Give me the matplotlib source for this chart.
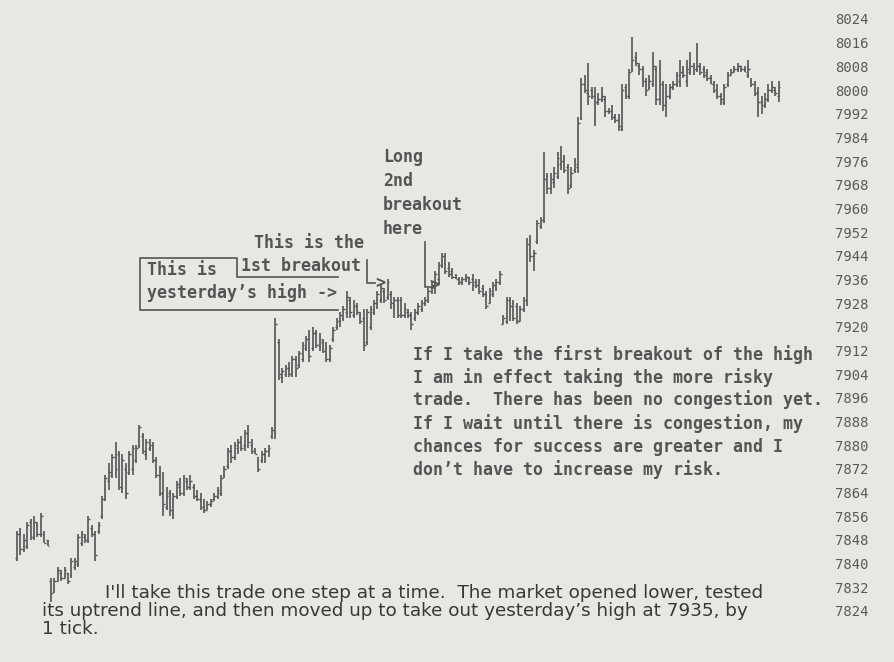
import numpy as np
import matplotlib
matplotlib.use("Agg")
import matplotlib.pyplot as plt
from matplotlib.lines import Line2D

# one-minute style OHLC bars, oldest first
highs = [
    7851, 7852, 7850, 7854, 7855, 7856, 7854, 7857, 7851, 7848,
    7835, 7835, 7839, 7838, 7839, 7837, 7842, 7842, 7850, 7851, 7850, 7856, 7853, 7851, 7854,
    7863, 7870, 7874, 7877, 7881, 7878, 7877, 7874, 7878, 7880, 7880, 7887, 7884, 7882, 7882,
    7881, 7876, 7873, 7871, 7866, 7865, 7864, 7868, 7869, 7870, 7869, 7870, 7867, 7865, 7864,
    7862, 7861, 7862, 7864, 7866, 7870, 7873, 7879, 7880, 7881, 7882, 7883, 7885, 7887, 7882,
    7879, 7876, 7878, 7879, 7880, 7886,
    7923, 7916, 7906, 7907, 7908, 7910, 7910, 7912, 7915, 7917, 7919, 7920, 7919, 7918, 7916,
    7915, 7914, 7920, 7923, 7925, 7927, 7932, 7930, 7929, 7928, 7925, 7926, 7926, 7927, 7929,
    7932, 7934, 7933, 7936, 7932, 7930, 7930,
    7930, 7928, 7926, 7925, 7926, 7928, 7929, 7930, 7933, 7935, 7939, 7942, 7945, 7945, 7942,
    7940, 7938, 7937, 7937, 7938, 7937, 7938, 7936, 7936, 7934, 7932, 7933, 7935, 7936, 7939,
    7924, 7930, 7930, 7929, 7928, 7927, 7930,
    7950, 7951, 7946, 7956, 7957, 7979, 7972, 7972, 7974, 7979, 7981, 7978, 7975, 7974, 7977, 7991,
    8004, 8005, 8009, 8001, 8001, 7999, 8001, 7998, 7994, 7995, 7992, 7992, 8002, 8002, 8007,
    8018, 8013, 8009, 8008, 8004, 8005, 8013, 8008, 8010, 8003, 8002, 8002, 8003, 8006, 8010,
    8008, 8010, 8013, 8009, 8016, 8009, 8008, 8007, 8005, 8003, 8002, 7999, 8002, 8006, 8007,
    8008, 8009, 8008, 8008, 8010, 8004, 8003, 8001, 7998, 7999, 8002, 8003, 8001, 8003,
]
lows = [
    7841, 7843, 7844, 7845, 7848, 7848, 7849, 7849, 7847, 7846,
    7827, 7830, 7834, 7834, 7835, 7833, 7835, 7838, 7839, 7846, 7847, 7847, 7849, 7841, 7850,
    7855, 7861, 7865, 7869, 7869, 7865, 7864, 7862, 7870, 7870, 7874, 7879, 7877, 7875, 7878,
    7874, 7869, 7863, 7856, 7858, 7856, 7855, 7862, 7863, 7863, 7865, 7865, 7862, 7861, 7858,
    7857, 7858, 7859, 7861, 7862, 7863, 7869, 7872, 7874, 7875, 7877, 7878, 7878, 7879, 7877,
    7877, 7871, 7874, 7874, 7876, 7882,
    7882, 7902, 7901, 7903, 7903, 7903, 7903, 7906, 7908, 7912, 7908, 7912, 7913, 7912, 7911,
    7908, 7908, 7915, 7919, 7920, 7922, 7923, 7923, 7923, 7924, 7921, 7912, 7914, 7919, 7924,
    7926, 7928, 7928, 7929, 7926, 7923, 7923,
    7923, 7923, 7923, 7919, 7922, 7924, 7925, 7927, 7928, 7931, 7931, 7934, 7940, 7938, 7937,
    7936, 7936, 7934, 7934, 7935, 7934, 7932, 7933, 7931, 7930, 7926, 7928, 7930, 7932, 7934,
    7921, 7921, 7922, 7922, 7921, 7922, 7925,
    7927, 7942, 7939, 7948, 7953, 7955, 7965, 7965, 7967, 7970, 7973, 7972, 7965, 7967, 7972, 7972,
    7990, 7999, 7995, 7997, 7988, 7995, 7996, 7991, 7992, 7990, 7989, 7986, 7986, 7997, 7997,
    8006, 8008, 8005, 8001, 7998, 8000, 8001, 7995, 7995, 7993, 7991, 7997, 8000, 8001, 8001,
    8004, 8001, 8005, 8005, 8006, 8005, 8004, 8003, 8002, 7999, 7997, 7995, 7995, 8001, 8005,
    8006, 8006, 8006, 8006, 8004, 8001, 7998, 7991, 7992, 7994, 7996, 7999, 7998, 7996,
]
opens = [
    7842, 7850, 7845, 7846, 7854, 7849, 7853, 7850, 7850, 7848,
    7834, 7831, 7834, 7837, 7835, 7837, 7836, 7839, 7840, 7847, 7849, 7848, 7852, 7850, 7851,
    7856, 7862, 7868, 7870, 7876, 7877, 7866, 7872, 7871, 7872, 7875, 7880, 7883, 7877, 7879,
    7880, 7875, 7870, 7864, 7859, 7864, 7857, 7863, 7866, 7864, 7868, 7866, 7866, 7863, 7862,
    7859, 7858, 7860, 7862, 7863, 7864, 7870, 7873, 7878, 7876, 7879, 7881, 7880, 7884, 7880,
    7878, 7876, 7875, 7877, 7878, 7883,
    7884, 7915, 7903, 7904, 7906, 7905, 7909, 7907, 7909, 7913, 7916, 7913, 7918, 7914, 7915,
    7913, 7909, 7916, 7920, 7922, 7923, 7925, 7929, 7924, 7927, 7924, 7923, 7915, 7920, 7925,
    7928, 7929, 7932, 7930, 7931, 7927, 7929,
    7929, 7924, 7925, 7924, 7923, 7925, 7926, 7928, 7929, 7932, 7933, 7936, 7941, 7944, 7940,
    7939, 7937, 7936, 7935, 7936, 7937, 7936, 7935, 7935, 7933, 7931, 7928, 7931, 7933, 7935,
    7921, 7922, 7929, 7928, 7927, 7922, 7926,
    7929, 7949, 7944, 7949, 7954, 7956, 7971, 7967, 7969, 7971, 7975, 7977, 7974, 7968, 7973, 7974,
    7991, 8002, 7999, 8000, 7998, 7996, 7997, 7997, 7993, 7993, 7991, 7990, 7987, 8001, 7998,
    8007, 8011, 8008, 8007, 8003, 8001, 8002, 8007, 7997, 8002, 7996, 7998, 8001, 8002, 8003,
    8006, 8003, 8006, 8008, 8007, 8008, 8007, 8006, 8004, 8002, 7999, 7998, 7996, 8002, 8005,
    8006, 8007, 8008, 8007, 8005, 8003, 8002, 7999, 7996, 7995, 7997, 8000, 8000, 7998,
]
closes = [
    7850, 7845, 7848, 7853, 7849, 7854, 7850, 7856, 7847, 7846,
    7830, 7834, 7838, 7835, 7838, 7834, 7841, 7841, 7849, 7850, 7848, 7855, 7850, 7843, 7853,
    7862, 7869, 7871, 7876, 7872, 7866, 7875, 7864, 7877, 7879, 7879, 7886, 7878, 7881, 7880,
    7875, 7870, 7864, 7860, 7863, 7858, 7863, 7867, 7864, 7869, 7866, 7868, 7863, 7862, 7859,
    7858, 7860, 7861, 7863, 7865, 7869, 7872, 7878, 7876, 7880, 7881, 7879, 7884, 7881, 7878,
    7877, 7872, 7877, 7878, 7879, 7885,
    7921, 7904, 7905, 7906, 7904, 7909, 7906, 7911, 7914, 7916, 7910, 7918, 7914, 7916, 7912,
    7909, 7913, 7919, 7922, 7924, 7926, 7930, 7925, 7927, 7925, 7922, 7914, 7925, 7926, 7928,
    7931, 7933, 7929, 7935, 7928, 7929, 7924,
    7924, 7926, 7924, 7921, 7925, 7927, 7928, 7929, 7932, 7934, 7938, 7941, 7944, 7939, 7938,
    7937, 7936, 7935, 7936, 7937, 7935, 7934, 7934, 7932, 7931, 7927, 7932, 7934, 7935, 7938,
    7923, 7929, 7927, 7923, 7922, 7926, 7929,
    7948, 7944, 7945, 7955, 7956, 7970, 7967, 7970, 7972, 7977, 7976, 7973, 7967, 7972, 7975, 7989,
    8002, 8000, 7998, 7998, 7996, 7997, 7998, 7993, 7993, 7991, 7990, 7988, 8000, 7998, 8006,
    8010, 8009, 8007, 8003, 8000, 8003, 8008, 7997, 8002, 7995, 7998, 8001, 8002, 8005, 8006,
    8005, 8007, 8008, 8007, 8008, 8006, 8005, 8004, 8002, 8000, 7998, 7997, 8001, 8005, 8006,
    8007, 8008, 8007, 8006, 8007, 8002, 7999, 7996, 7995, 7997, 8000, 8001, 7999, 8001,
]

price_ticks = list(range(8024, 7823, -8))

note_lines = [
    "If I take the first breakout of the high",
    "I am in effect taking the more risky",
    "trade.  There has been no congestion yet.",
]
note2_lines = [
    "If I wait until there is congestion, my",
    "chances for success are greater and I",
    "don\u2019t have to increase my risk.",
]
caption = [
    "I'll take this trade one step at a time.  The market opened lower, tested",
    "its uptrend line, and then moved up to take out yesterday\u2019s high at 7935, by",
    "1 tick.",
]

W, H = 894, 662
paper = "#e7e7e4"
ink = "#545454"
mono = "DejaVu Sans Mono"

fig = plt.figure(figsize=(W / 100, H / 100), dpi=100, facecolor=paper)
ax = fig.add_axes([0, 0, 1, 1], facecolor=paper)

idx = np.arange(len(highs))
hi = np.array(highs)
lo = np.array(lows)
op = np.clip(opens, lo, hi)
cl = np.clip(closes, lo, hi)

ax.vlines(idx, lo, hi, color=ink, lw=1.2)
ax.hlines(op, idx - 0.55, idx, color=ink, lw=1.0)
ax.hlines(cl, idx, idx + 0.55, color=ink, lw=1.0)

# bar spacing ~3.4 px, price scale ~2.96 px per point
ax.set_xlim(-17 / 3.4, (W - 17) / 3.4)
ax.set_ylim(8024 - (H - 19) / 2.96, 8024 + 19 / 2.96)

ax.set_yticks(price_ticks)
ax.set_yticklabels([str(t) for t in price_ticks], family=mono, fontsize=10,
                   color="#5a5a5a", ha="left")
ax.yaxis.tick_right()
ax.tick_params(axis="y", length=0, pad=-(W - 835) * 0.72)
ax.set_xticks([])
for s in ax.spines.values():
    s.set_visible(False)


def fx(x, y):
    return x / W, 1 - y / H


def txt(x, y, s, **kw):
    kw.setdefault("family", mono)
    kw.setdefault("fontsize", 12)
    kw.setdefault("weight", "bold")
    kw.setdefault("color", ink)
    fig.text(*fx(x, y), s, va="center", ha="left", **kw)


def line(xs, ys, lw=1.2):
    pts = [fx(x, y) for x, y in zip(xs, ys)]
    fig.add_artist(Line2D([p[0] for p in pts], [p[1] for p in pts],
                          transform=fig.transFigure, color=ink, lw=lw))


# yesterday's high box
line([338, 237, 237, 140, 140, 338], [277, 277, 258, 258, 310, 310])
txt(147, 270, "This is")
txt(147, 293, "yesterday\u2019s high ->")
txt(254, 243, "This is the")
txt(241, 266, "1st breakout")
line([367, 367, 375], [260, 283, 283])
txt(375, 283, ">")

# second breakout note
for k, s in enumerate(["Long", "2nd", "breakout", "here"]):
    txt(383, 157 + 24 * k, s)
line([425, 425, 430], [242, 287, 287])
txt(429, 285, ">")

for k, s in enumerate(note_lines):
    txt(413, 355 + 22.5 * k, s)
for k, s in enumerate(note2_lines):
    txt(413, 424 + 23 * k, s)

cap_style = dict(family="DejaVu Sans", fontsize=13.2, color="#383838", va="center")
fig.text(*fx(105, 593), caption[0], **cap_style)
for k, s in enumerate(caption[1:]):
    fig.text(*fx(42, 611 + 18 * k), s, **cap_style)

fig.savefig("out.png", dpi=100, facecolor=paper)
